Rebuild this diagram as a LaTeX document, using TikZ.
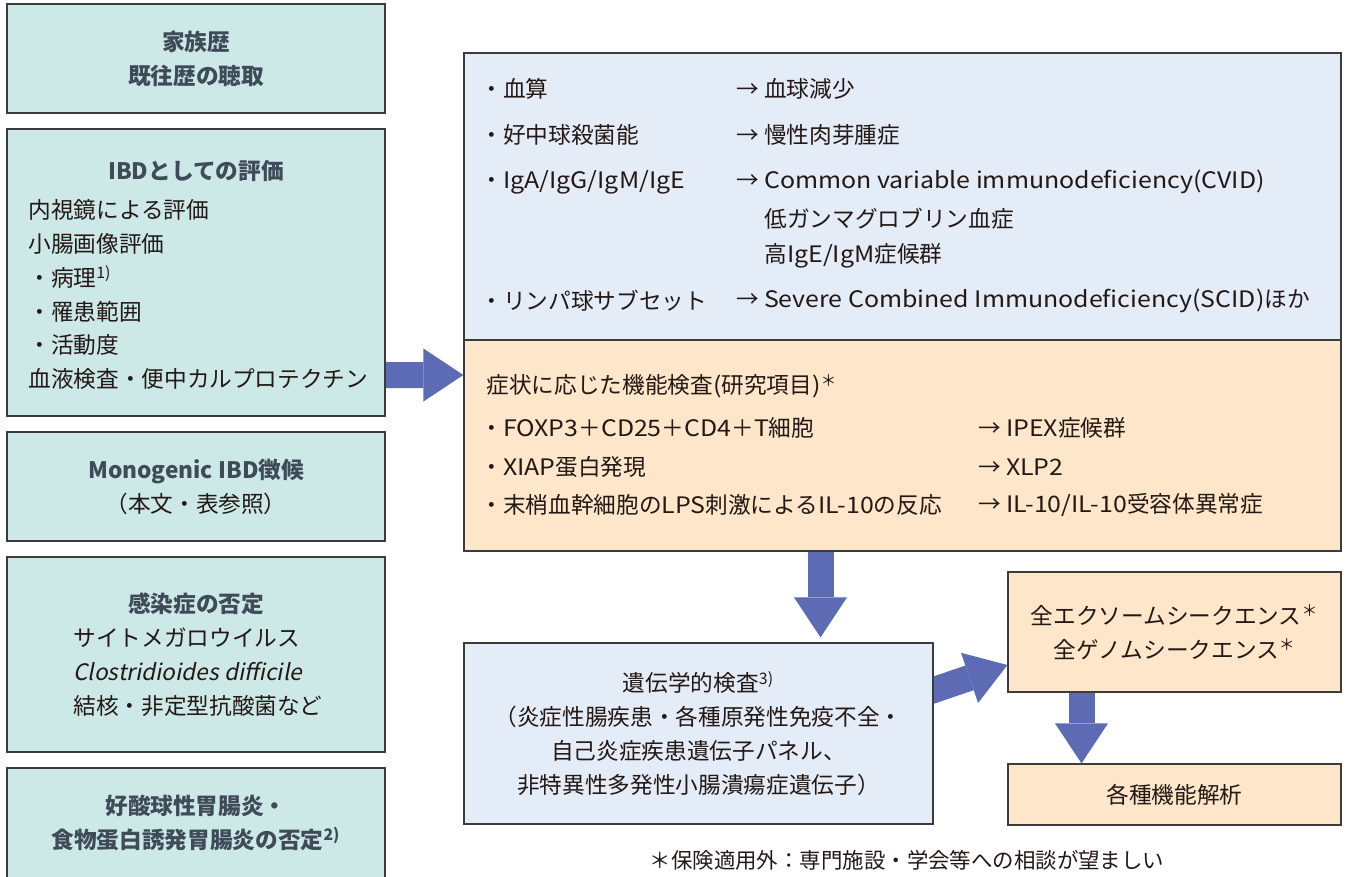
\documentclass[tikz,border=0pt]{standalone}
\usepackage{fontspec}
\setmainfont{Noto Sans CJK JP}
\newfontfamily\slantfont{Noto Sans CJK JP}[FakeSlant=0.2]
\newfontfamily\enfont{Noto Sans CJK JP}[FakeStretch=1.1]
\newcommand\en[1]{{\enfont #1}}
\usetikzlibrary{arrows.meta,calc,backgrounds}
\definecolor{tealbg}{HTML}{CCE8E7}
\definecolor{bluebg}{HTML}{E4ECF7}
\definecolor{orangebg}{HTML}{FDE6C9}
\definecolor{arrowblue}{HTML}{5C6BB3}
\definecolor{framegray}{HTML}{3C3C3C}
\definecolor{headgray}{HTML}{3F4B58}
\definecolor{textgray}{HTML}{231815}
\newlength\pxu
\setlength\pxu{0.02cm}
\tikzset{
  lbox/.style={draw=framegray,fill=tealbg,line width=0.7pt,inner sep=0pt,
    minimum width=378\pxu,text=headgray,font=\bfseries,align=center},
  bbox/.style={draw=framegray,fill=bluebg,line width=0.7pt,inner sep=0pt,
    text=textgray,align=center},
  obox/.style={draw=framegray,fill=orangebg,line width=0.7pt,inner sep=0pt,
    text=textgray,align=center},
  txt/.style={inner sep=0pt,anchor=west,align=left,text=textgray},
  head/.style={inner sep=0pt,text=headgray,font=\bfseries},
  bigarrow/.style={draw=arrowblue,line width=0.52cm,
    -{Triangle[width=1.06cm,length=0.8cm,line width=0pt]}}
}
\begin{document}
\fontsize{12.9}{19.3}\selectfont
\begin{tikzpicture}[x=0.02cm,y=-0.02cm]
  \useasboundingbox (0,0) rectangle (1346,876);
  % 左侧方框
  \node[lbox,minimum height=109\pxu] (hist) at (196,58.5) {家族歴\\既往歴の聴取};
  \node[lbox,minimum height=287\pxu] (ibd) at (196,272.5) {};
  \node[head] (ibdhead) at (196,171) {IBDとしての評価};
  \node[txt] (ibdbody) at (28,294.5) {内視鏡による評価\\小腸画像評価\\・病理\textsuperscript{1)}\\・罹患範囲\\・活動度\\血液検査・便中カルプロテクチン};
  \node[lbox,minimum height=109\pxu] (mono) at (196,486.5) {Monogenic IBD徴候\\{\mdseries\color{textgray}（本文・表参照）}};
  \node[lbox,minimum height=195\pxu] (infect) at (196,654.5) {};
  \node[head] (infhead) at (196,604) {感染症の否定};
  \node[txt] (infbody) at (73,672) {サイトメガロウイルス\\{\slantfont Clostridioides difficile}\\結核・非定型抗酸菌など};
  \node[lbox,minimum height=110\pxu] (eos) at (196,823) {好酸球性胃腸炎・\\食物蛋白誘発胃腸炎の否定\textsuperscript{2)}};
  % 右侧检查框
  \node[bbox,minimum width=877\pxu,minimum height=287\pxu] (blood) at (902.5,196.5) {};
  \node[obox,minimum width=877\pxu,minimum height=211\pxu] (func) at (902.5,445.5) {};
  \node[txt] (b1l) at (480,89) {・血算};
  \node[txt] (b1r) at (736,89) {→ 血球減少};
  \node[txt] (b2l) at (480,135) {・好中球殺菌能};
  \node[txt] (b2r) at (736,135) {→ 慢性肉芽腫症};
  \node[txt] (b3l) at (480,182) {・\en{IgA/IgG/IgM/IgE}};
  \node[txt] (b3r) at (736,182) {→ \en{Common variable immunodeficiency(CVID)}};
  \node[txt] (b3a) at (764,219) {低ガンマグロブリン血症};
  \node[txt] (b3b) at (764,256) {高\en{IgE/IgM}症候群};
  \node[txt] (b4l) at (480,301) {・リンパ球サブセット};
  \node[txt] (b4r) at (736,301) {→ \en{Severe Combined Immunodeficiency(SCID)}ほか};
  \node[txt] (f0) at (486,386) {症状に応じた機能検査\en{(}研究項目\en{)}\textsuperscript{＊}};
  \node[txt] (f1l) at (480,428) {・\en{FOXP3}＋\en{CD25}＋\en{CD4}＋\en{T}細胞};
  \node[txt] (f1r) at (978,428) {→ \en{IPEX}症候群};
  \node[txt] (f2l) at (480,467) {・\en{XIAP}蛋白発現};
  \node[txt] (f2r) at (978,467) {→ \en{XLP2}};
  \node[txt] (f3l) at (480,505) {・末梢血幹細胞の\en{LPS}刺激による\en{IL-10}の反応};
  \node[txt] (f3r) at (978,505) {→ \en{IL-10/IL-10}受容体異常症};
  % 遗传学检查
  \node[bbox,minimum width=469\pxu,minimum height=181\pxu] (gen) at (698.5,733.5) {遺伝学的検査\textsuperscript{3)}\\（炎症性腸疾患・各種原発性免疫不全・\\自己炎症疾患遺伝子パネル、\\非特異性多発性小腸潰瘍症遺伝子）};
  \node[obox,minimum width=333\pxu,minimum height=120\pxu] (wes) at (1174.5,632) {全エクソームシークエンス\textsuperscript{＊}\\全ゲノムシークエンス\textsuperscript{＊}};
  \node[obox,minimum width=333\pxu,minimum height=61\pxu] (anal) at (1174.5,794.5) {各種機能解析};
  % 脚注
  \node[txt,anchor=center,font=\fontsize{12.2}{18}\selectfont] (note) at (907,860) {＊保険適用外：専門施設・学会等への相談が望ましい};
  % 箭头
  \begin{scope}[on background layer]
    \draw[bigarrow] ($(ibd.east)+(-4,102.5)$) -- ($(func.west)+(0,-70.5)$);
    \draw[bigarrow] ($(func.south)+(-82,-4)$) -- ($(gen.north)+(122,-5)$);
    \draw[bigarrow] ($(gen.east)+(-10,-40)$) -- ($(wes.west)+(0,33)$);
    \draw[bigarrow] ($(wes.south)+(-93,-4)$) -- ($(anal.north)+(-93,0)$);
  \end{scope}
\end{tikzpicture}
\end{document}
